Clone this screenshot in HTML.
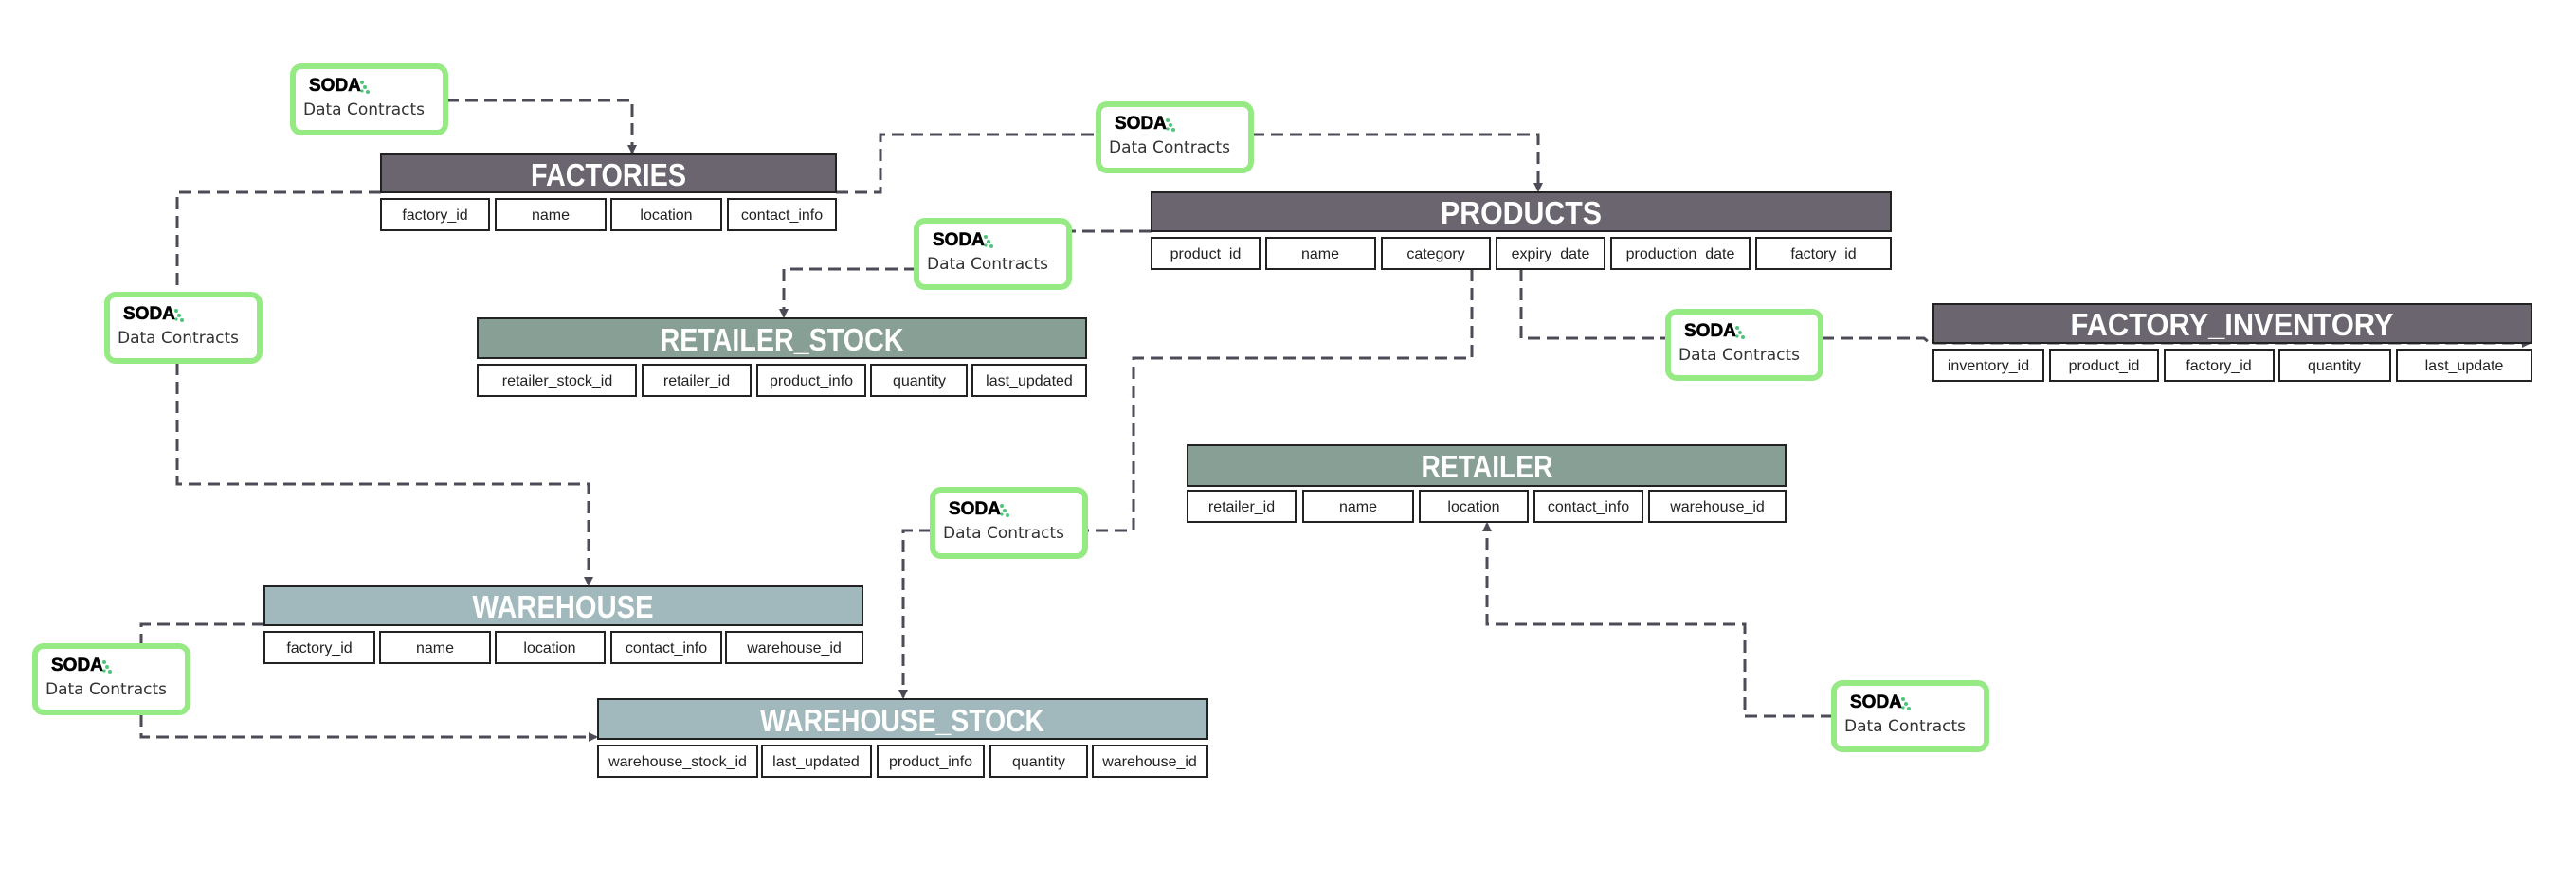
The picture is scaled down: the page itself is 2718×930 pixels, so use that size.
<!DOCTYPE html>
<html><head><meta charset="utf-8">
<style>
html,body{margin:0;padding:0;background:#fff;}
svg{display:block;}
.hd{font-family:"Liberation Sans",sans-serif;font-weight:bold;fill:#fff;font-size:33px;}
.fd{font-family:"Liberation Sans",sans-serif;fill:#222;font-size:16px;}
.ln{fill:none;stroke:#4d4b57;stroke-width:3;stroke-dasharray:13 7;}
.sb{fill:#fff;stroke:#96ea83;stroke-width:6;}
.st{font-family:"Liberation Sans",sans-serif;font-weight:900;font-size:19px;fill:#000;stroke:#000;stroke-width:0.6;}
.dc{font-family:"DejaVu Sans","Liberation Sans",sans-serif;font-size:17px;fill:#333;}
</style></head>
<body>
<svg width="2718" height="930" viewBox="0 0 2718 930" xmlns="http://www.w3.org/2000/svg">
<defs>
<marker id="ar" markerWidth="10" markerHeight="10" refX="8" refY="5" orient="auto" markerUnits="userSpaceOnUse">
<path d="M0,0 L10,5 L0,10 z" fill="#4d4b57"/>
</marker>
<g id="soda">
<rect class="sb" x="3" y="3" width="161" height="70" rx="9"/>
<text class="st" x="20" y="29">SODA</text>
<circle cx="76" cy="20" r="2" fill="#4cc67a"/><circle cx="79" cy="25" r="2" fill="#4cc67a"/><circle cx="82" cy="30" r="2" fill="#4cc67a"/><circle cx="76" cy="29" r="1.6" fill="#4cc67a"/>
<text class="dc" x="14" y="54">Data Contracts</text>
</g>
</defs>

<path class="ln" d="M471,106 H667 V161" marker-end="url(#ar)"/>
<path class="ln" d="M402,203 H187 V312"/>
<path class="ln" d="M187,383 V511 H621 V617" marker-end="url(#ar)"/>
<path class="ln" d="M882,203 H929 V142 H1158"/>
<path class="ln" d="M1321,142 H1623 V201" marker-end="url(#ar)"/>
<path class="ln" d="M1215,244 H1130"/>
<path class="ln" d="M967,284 H827 V334" marker-end="url(#ar)"/>
<path class="ln" d="M1553,284 V378 H1196 V560 H1146"/>
<path class="ln" d="M983,560 H953 V736" marker-end="url(#ar)"/>
<path class="ln" d="M1605,284 V357 H1759"/>
<path class="ln" d="M1922,357 H2030 L2036,362 H2669" marker-end="url(#ar)"/>
<path class="ln" d="M1934,756 H1841 V659 H1569 V553" marker-end="url(#ar)"/>
<path class="ln" d="M279,659 H149 V681"/>
<path class="ln" d="M149,754 V778 H629" marker-end="url(#ar)"/>

<rect x="402" y="163" width="480" height="40" fill="#6b6570" stroke="#222" stroke-width="2"/>
<text class="hd" x="642" y="196" text-anchor="middle" textLength="164" lengthAdjust="spacingAndGlyphs">FACTORIES</text>
<g fill="#fff" stroke="#222" stroke-width="2">
<rect x="402" y="210" width="114" height="33"/><rect x="523" y="210" width="116" height="33"/><rect x="645" y="210" width="116" height="33"/><rect x="768" y="210" width="114" height="33"/>
</g>
<g class="fd" text-anchor="middle">
<text x="459" y="232">factory_id</text><text x="581" y="232">name</text><text x="703" y="232">location</text><text x="825" y="232">contact_info</text>
</g>

<rect x="1215" y="203" width="780" height="41" fill="#6b6570" stroke="#222" stroke-width="2"/>
<text class="hd" x="1605" y="236" text-anchor="middle" textLength="170" lengthAdjust="spacingAndGlyphs">PRODUCTS</text>
<g fill="#fff" stroke="#222" stroke-width="2">
<rect x="1215" y="251" width="114" height="33"/><rect x="1336" y="251" width="115" height="33"/><rect x="1458" y="251" width="114" height="33"/><rect x="1579" y="251" width="114" height="33"/><rect x="1700" y="251" width="146" height="33"/><rect x="1853" y="251" width="142" height="33"/>
</g>
<g class="fd" text-anchor="middle">
<text x="1272" y="273">product_id</text><text x="1393" y="273">name</text><text x="1515" y="273">category</text><text x="1636" y="273">expiry_date</text><text x="1773" y="273">production_date</text><text x="1924" y="273">factory_id</text>
</g>

<rect x="504" y="336" width="642" height="42" fill="#879f95" stroke="#222" stroke-width="2"/>
<text class="hd" x="825" y="370" text-anchor="middle" textLength="257" lengthAdjust="spacingAndGlyphs">RETAILER_STOCK</text>
<g fill="#fff" stroke="#222" stroke-width="2">
<rect x="504" y="385" width="167" height="33"/><rect x="678" y="385" width="114" height="33"/><rect x="799" y="385" width="114" height="33"/><rect x="919" y="385" width="101" height="33"/><rect x="1026" y="385" width="120" height="33"/>
</g>
<g class="fd" text-anchor="middle">
<text x="588" y="407">retailer_stock_id</text><text x="735" y="407">retailer_id</text><text x="856" y="407">product_info</text><text x="970" y="407">quantity</text><text x="1086" y="407">last_updated</text>
</g>

<rect x="2040" y="321" width="631" height="41" fill="#6b6570" stroke="#222" stroke-width="2"/>
<text class="hd" x="2355" y="354" text-anchor="middle" textLength="341" lengthAdjust="spacingAndGlyphs">FACTORY_INVENTORY</text>
<g fill="#fff" stroke="#222" stroke-width="2">
<rect x="2040" y="369" width="116" height="33"/><rect x="2163" y="369" width="114" height="33"/><rect x="2284" y="369" width="115" height="33"/><rect x="2405" y="369" width="117" height="33"/><rect x="2529" y="369" width="142" height="33"/>
</g>
<g class="fd" text-anchor="middle">
<text x="2098" y="391">inventory_id</text><text x="2220" y="391">product_id</text><text x="2341" y="391">factory_id</text><text x="2463" y="391">quantity</text><text x="2600" y="391">last_update</text>
</g>

<rect x="1253" y="470" width="631" height="43" fill="#879f95" stroke="#222" stroke-width="2"/>
<text class="hd" x="1569" y="504" text-anchor="middle" textLength="139" lengthAdjust="spacingAndGlyphs">RETAILER</text>
<g fill="#fff" stroke="#222" stroke-width="2">
<rect x="1253" y="518" width="114" height="33"/><rect x="1375" y="518" width="116" height="33"/><rect x="1498" y="518" width="114" height="33"/><rect x="1619" y="518" width="114" height="33"/><rect x="1740" y="518" width="144" height="33"/>
</g>
<g class="fd" text-anchor="middle">
<text x="1310" y="540">retailer_id</text><text x="1433" y="540">name</text><text x="1555" y="540">location</text><text x="1676" y="540">contact_info</text><text x="1812" y="540">warehouse_id</text>
</g>

<rect x="279" y="619" width="631" height="41" fill="#a1b9bd" stroke="#222" stroke-width="2"/>
<text class="hd" x="594" y="652" text-anchor="middle" textLength="191" lengthAdjust="spacingAndGlyphs">WAREHOUSE</text>
<g fill="#fff" stroke="#222" stroke-width="2">
<rect x="279" y="667" width="116" height="33"/><rect x="401" y="667" width="116" height="33"/><rect x="523" y="667" width="115" height="33"/><rect x="645" y="667" width="116" height="33"/><rect x="766" y="667" width="144" height="33"/>
</g>
<g class="fd" text-anchor="middle">
<text x="337" y="689">factory_id</text><text x="459" y="689">name</text><text x="580" y="689">location</text><text x="703" y="689">contact_info</text><text x="838" y="689">warehouse_id</text>
</g>

<rect x="631" y="738" width="643" height="42" fill="#a1b9bd" stroke="#222" stroke-width="2"/>
<text class="hd" x="952" y="772" text-anchor="middle" textLength="300" lengthAdjust="spacingAndGlyphs">WAREHOUSE_STOCK</text>
<g fill="#fff" stroke="#222" stroke-width="2">
<rect x="631" y="787" width="168" height="33"/><rect x="804" y="787" width="115" height="33"/><rect x="926" y="787" width="112" height="33"/><rect x="1045" y="787" width="102" height="33"/><rect x="1153" y="787" width="121" height="33"/>
</g>
<g class="fd" text-anchor="middle">
<text x="715" y="809">warehouse_stock_id</text><text x="861" y="809">last_updated</text><text x="982" y="809">product_info</text><text x="1096" y="809">quantity</text><text x="1213" y="809">warehouse_id</text>
</g>

<use href="#soda" x="306" y="67"/>
<use href="#soda" x="1156" y="107"/>
<use href="#soda" x="964" y="230"/>
<use href="#soda" x="110" y="308"/>
<use href="#soda" x="1757" y="326"/>
<use href="#soda" x="981" y="514"/>
<use href="#soda" x="34" y="679"/>
<use href="#soda" x="1932" y="718"/>
</svg>
</body></html>
